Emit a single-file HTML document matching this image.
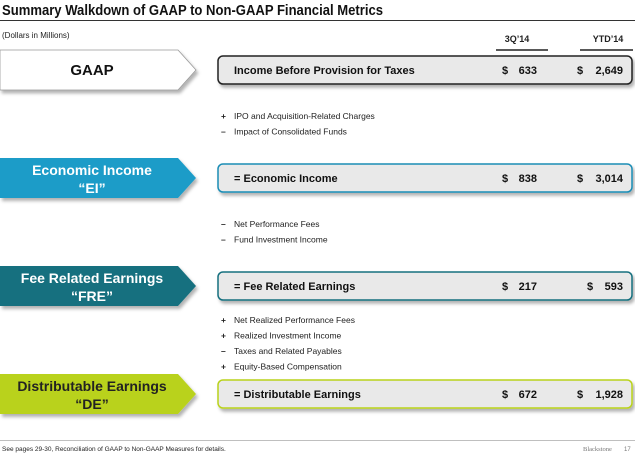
<!DOCTYPE html>
<html><head><meta charset="utf-8"><style>
body{margin:0;background:#fff;}
svg{display:block;font-family:"Liberation Sans",sans-serif;}
</style></head><body>
<svg width="635" height="454" viewBox="0 0 635 454">
<defs>
<filter id="sh" x="-5%" y="-10%" width="115%" height="140%"><feDropShadow dx="2" dy="3" stdDeviation="1.5" flood-color="#000" flood-opacity="0.3"/></filter>
</defs>
<text x="2" y="15" font-size="14.5" font-weight="bold" fill="#111" textLength="381" lengthAdjust="spacingAndGlyphs">Summary Walkdown of GAAP to Non-GAAP Financial Metrics</text>
<line x1="0" y1="20.5" x2="635" y2="20.5" stroke="#333" stroke-width="1"/>
<text x="2" y="38" font-size="8" fill="#222">(Dollars in Millions)</text>
<text x="517" y="42" font-size="9" font-weight="bold" text-anchor="middle" fill="#222">3Q’14</text>
<line x1="496" y1="50" x2="548" y2="50" stroke="#222" stroke-width="1.5"/>
<text x="608" y="42" font-size="9" font-weight="bold" text-anchor="middle" fill="#222">YTD’14</text>
<line x1="580" y1="50" x2="633" y2="50" stroke="#222" stroke-width="1.5"/>
<g id="rows"></g>
<line x1="0" y1="440.5" x2="635" y2="440.5" stroke="#aaa" stroke-width="0.8"/>
<text x="2" y="451" font-size="6.5" fill="#222">See pages 29-30, Reconciliation of GAAP to Non-GAAP Measures for details.</text>
<text x="583" y="451" font-size="6.5" fill="#777" font-family="Liberation Serif,serif">Blackstone</text>
<text x="624" y="451" font-size="6" fill="#777">17</text>
</svg>
<script>
const labels1=["GAAP","Economic Income","Fee Related Earnings","Distributable Earnings"];
const labels2=["","“EI”","“FRE”","“DE”"];
const boxLabels=["Income Before Provision for Taxes","=  Economic Income","=  Fee Related Earnings","=  Distributable Earnings"];
const q3Values=["633","838","217","672"];
const ytdValues=["2,649","3,014","593","1,928"];
const adjustments=[["+ |IPO and Acquisition-Related Charges","– |Impact of Consolidated Funds"],["– |Net Performance Fees","– |Fund Investment Income"],["+ |Net Realized Performance Fees","+ |Realized Investment Income","– |Taxes and Related Payables","+ |Equity-Based Compensation"]];
const fills=["#ffffff","#1a9cc8","#16707f","#b9d21a"];
const textCols=["#111","#fff","#fff","#222"];
const borders=["#222","#1a8db5","#16707f","#b9d21a"];
const tops=[50,158,266,374];
const adjTops=[116,224,320];
const NS="http://www.w3.org/2000/svg";
const g=document.getElementById('rows');
function mk(t,a,p){const e=document.createElementNS(NS,t);for(const k in a)e.setAttribute(k,a[k]);(p||g).appendChild(e);return e;}
function txt(x,y,s,a,p){const e=mk('text',Object.assign({x:x,y:y},a),p);e.textContent=s;return e;}
labels1.forEach((l,i)=>{
  const y=tops[i],h=40;
  const ar=mk('polygon',{points:`0,${y} 178,${y} 196,${y+h/2} 178,${y+h} 0,${y+h}`,fill:fills[i],stroke:i==0?'#999':'none','stroke-width':0.8,filter:'url(#sh)'});
  
  
  if(labels2[i]){
    const a=txt(92,y+17,l,{'font-size':14,'font-weight':'bold','text-anchor':'middle',fill:textCols[i]});
    
    
    const b=txt(92,y+35,labels2[i],{'font-size':14,'font-weight':'bold','text-anchor':'middle',fill:textCols[i]});
    
    
  } else {
    const a=txt(92,y+25,l,{'font-size':15,'font-weight':'bold','text-anchor':'middle',fill:textCols[i]});
    
    
  }
  const by=y+6;
  const bx=mk('rect',{x:218,y:by,width:414,height:28,rx:5,fill:'#e9e9e9',stroke:borders[i],'stroke-width':1.5,filter:'url(#sh)'});
  
  
  const t=txt(234,by+18,boxLabels[i],{'font-size':11,'font-weight':'bold',fill:'#111'});
  
  
  const d1=txt(502,by+18,'$',{'font-size':11,'font-weight':'bold',fill:'#111'});
  
  
  const v1=txt(537,by+18,q3Values[i],{'font-size':11,'font-weight':'bold','text-anchor':'end',fill:'#111'});
  
  
  const vx=ytdValues[i].length>3?577:587;
  const d2=txt(vx,by+18,'$',{'font-size':11,'font-weight':'bold',fill:'#111'});
  
  
  const v2=txt(623,by+18,ytdValues[i],{'font-size':11,'font-weight':'bold','text-anchor':'end',fill:'#111'});
  
  
});
adjustments.forEach((arr,i)=>{
  arr.forEach((s,j)=>{
    const [sym,lab]=s.split('|');
    const y=adjTops[i]+j*15.5+3;
    const a=txt(221,y,sym.trim(),{'font-size':8.5,fill:'#222','font-weight':'bold'});
    
    
    const b=txt(234,y,lab,{'font-size':8.5,fill:'#222'});
    
    
  });
});
</script>
</body></html>
